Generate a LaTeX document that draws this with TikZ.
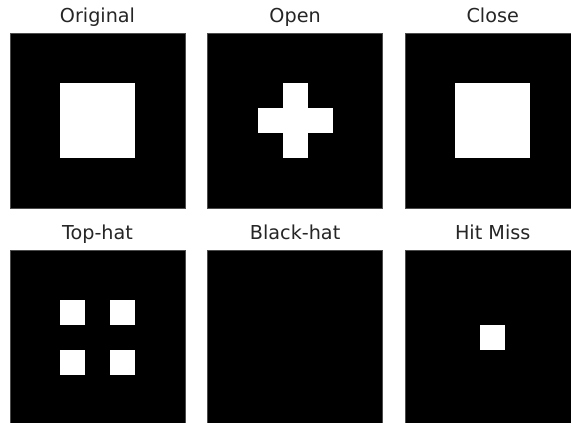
\documentclass[tikz,border=0pt]{standalone}
\usepackage{fontspec}
\setmainfont{DejaVu Sans}
\begin{document}
\begin{tikzpicture}[x=1pt,y=-1pt,
  title/.style={anchor=base, font=\fontsize{19.2}{23}\selectfont, text=black!85, inner sep=0pt},
  panelbg/.style={fill=black, draw=black!70, line width=0.4pt},
  pix/.style={fill=white}]
\useasboundingbox (0,0) rectangle (571,423);
\clip (0,0) rectangle (571,423);
\fill[white] (0,0) rectangle (571,423);
% titles
\node[title] (t1) at (97.5,22.5) {Original};
\node[title] (t2) at (295.1,22.5) {Open};
\node[title] (t3) at (492.7,22.5) {Close};
\node[title] (t4) at (97.5,239.8) {Top-hat};
\node[title] (t5) at (295.1,239.8) {Black-hat};
\node[title] (t6) at (492.7,239.8) {Hit Miss};
% Original
\begin{scope}[shift={(10,33)}]
  \filldraw[panelbg] (0,0) rectangle (175,175);
  \fill[pix] (50,50) rectangle (125,125);
\end{scope}
% Open
\begin{scope}[shift={(207.6,33)}]
  \filldraw[panelbg] (0,0) rectangle (175,175);
  \fill[pix] (75,50) rectangle (100,125);
  \fill[pix] (50,75) rectangle (125,100);
\end{scope}
% Close
\begin{scope}[shift={(405.2,33)}]
  \filldraw[panelbg] (0,0) rectangle (175,175);
  \fill[pix] (50,50) rectangle (125,125);
\end{scope}
% Top-hat
\begin{scope}[shift={(10,250.3)}]
  \filldraw[panelbg] (0,0) rectangle (175,175);
  \fill[pix] (50,50) rectangle (75,75);
  \fill[pix] (100,50) rectangle (125,75);
  \fill[pix] (50,100) rectangle (75,125);
  \fill[pix] (100,100) rectangle (125,125);
\end{scope}
% Black-hat
\begin{scope}[shift={(207.6,250.3)}]
  \filldraw[panelbg] (0,0) rectangle (175,175);
\end{scope}
% Hit Miss
\begin{scope}[shift={(405.2,250.3)}]
  \filldraw[panelbg] (0,0) rectangle (175,175);
  \fill[pix] (75,75) rectangle (100,100);
\end{scope}
\end{tikzpicture}
\end{document}
